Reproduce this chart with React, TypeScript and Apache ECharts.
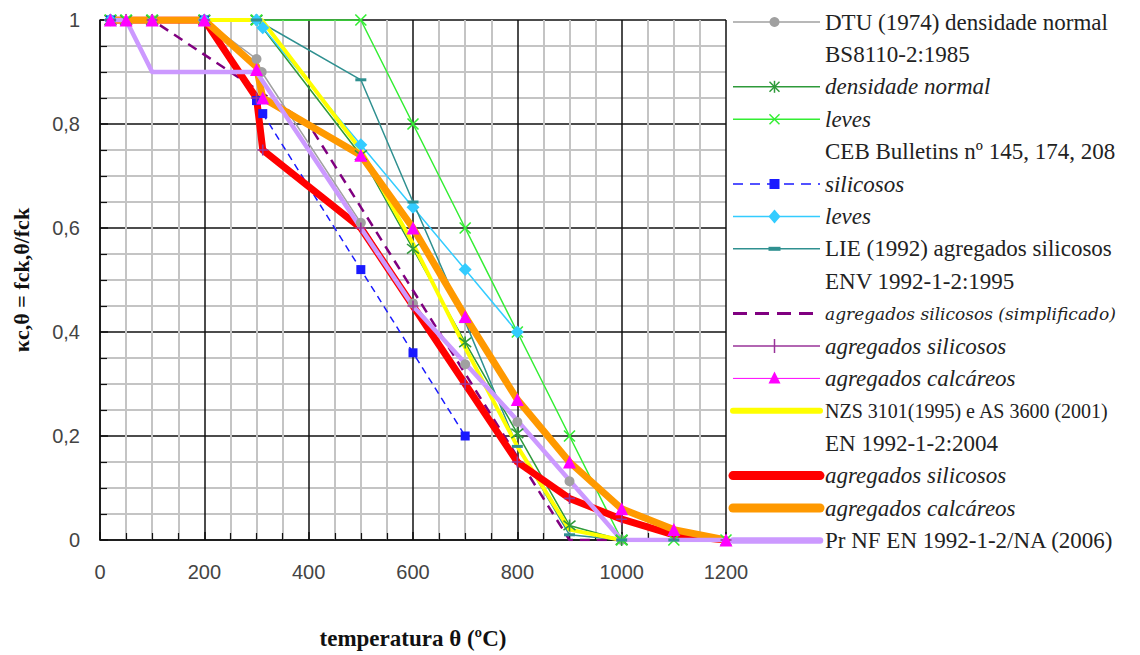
import React, { useEffect, useRef } from "react";
import * as echarts from "echarts";

// ---------- data (temperature °C, kc,θ) ----------
const dtu1974 = [[20, 1], [100, 1], [200, 1], [300, 0.925], [310, 0.9], [500, 0.61], [600, 0.455], [700, 0.338], [800, 0.227], [900, 0.113], [1000, 0]];
const bsNormal = [[20, 1], [50, 1], [100, 1], [200, 1], [300, 1], [500, 0.74], [600, 0.56], [700, 0.38], [800, 0.205], [900, 0.028], [1000, 0]];
const bsLeves = [[20, 1], [50, 1], [100, 1], [200, 1], [300, 1], [500, 1], [600, 0.8], [700, 0.6], [800, 0.4], [900, 0.2], [1000, 0], [1100, 0], [1200, 0]];
const cebSilicosos = [[20, 1], [200, 1], [300, 0.845], [312, 0.82], [500, 0.52], [600, 0.36], [700, 0.2]];
const cebLeves = [[20, 1], [200, 1], [300, 1], [312, 0.985], [500, 0.76], [600, 0.64], [700, 0.52], [800, 0.4]];
const lie1992 = [[20, 1], [300, 1], [500, 0.885], [600, 0.65], [700, 0.42], [800, 0.18], [900, 0.01], [1000, 0], [1100, 0]];
const envSimplificado = [[20, 1], [100, 1], [400, 0.8], [900, 0], [1200, 0]];
const envSilicosos = [[20, 1], [100, 1], [200, 1], [300, 0.85], [312, 0.75], [500, 0.6], [600, 0.45], [700, 0.3], [800, 0.15], [900, 0.08], [1000, 0.04], [1100, 0.01], [1200, 0]];
const envCalcareos = [[20, 1], [50, 1], [100, 1], [200, 1], [300, 0.905], [312, 0.85], [500, 0.74], [600, 0.6], [700, 0.43], [800, 0.27], [900, 0.15], [1000, 0.06], [1100, 0.02], [1200, 0]];
const nzs3101 = [[20, 1], [310, 1], [500, 0.75], [600, 0.57], [700, 0.37], [800, 0.18], [900, 0.02], [1000, 0]];
const enSilicosos = [[20, 1], [100, 1], [200, 1], [300, 0.85], [312, 0.75], [500, 0.6], [600, 0.45], [700, 0.3], [800, 0.15], [900, 0.08], [1000, 0.04], [1100, 0.01], [1200, 0]];
const enCalcareos = [[20, 1], [100, 1], [200, 1], [300, 0.91], [312, 0.85], [500, 0.74], [600, 0.6], [700, 0.43], [800, 0.27], [900, 0.15], [1000, 0.06], [1100, 0.02], [1200, 0]];
const prNf2006 = [[20, 1], [50, 1], [100, 0.9], [300, 0.9], [600, 0.45], [700, 0.34], [800, 0.23], [900, 0.115], [1000, 0], [1200, 0]];

const legendLabels = [
  "DTU (1974) densidade normal",
  "BS8110-2:1985",
  "densidade normal",
  "leves",
  "CEB Bulletins nº 145, 174, 208",
  "silicosos",
  "leves",
  "LIE (1992) agregados silicosos",
  "ENV 1992-1-2:1995",
  "agregados silicosos (simplificado)",
  "agregados silicosos",
  "agregados calcáreos",
  "NZS 3101(1995) e AS 3600 (2001)",
  "EN 1992-1-2:2004",
  "agregados silicosos",
  "agregados calcáreos",
  "Pr NF EN 1992-1-2/NA (2006)",
];

const xName = "temperatura θ (ºC)";
const yName = "κc,θ = fck,θ/fck";

// ---------- styling ----------
const P_X = "path://M0,0L10,10M10,0L0,10";
const P_AST = "path://M1,1L9,9M9,1L1,9M5,0L5,10";
const P_PLUS = "path://M5,0L5,10M0,5L10,5";

type SeriesCfg = {
  data: number[][];
  color: string;
  width: number;
  dash?: any;
  symbol: string;
  size?: any;
  stroke?: boolean;
  legendRow: number;
  italic?: boolean;
  fontSize?: number;
  fontFamily?: string;
};

const seriesCfg: SeriesCfg[] = [
  { data: dtu1974, color: "#a0a0a0", width: 1.5, symbol: "circle", size: 10, legendRow: 0 },
  { data: bsNormal, color: "#2e9a3a", width: 1.5, symbol: P_AST, size: 12, stroke: true, legendRow: 2, italic: true },
  { data: bsLeves, color: "#33ee33", width: 1.5, symbol: P_X, size: 11, stroke: true, legendRow: 3, italic: true },
  { data: cebSilicosos, color: "#1a1aff", width: 1.5, dash: [7, 5], symbol: "rect", size: 9, legendRow: 5, italic: true },
  { data: cebLeves, color: "#33ccff", width: 1.5, symbol: "diamond", size: 13, legendRow: 6, italic: true },
  { data: lie1992, color: "#2f9090", width: 1.5, symbol: "rect", size: [11, 3], legendRow: 7 },
  { data: envSimplificado, color: "#800080", width: 2.5, dash: [10, 7], symbol: "none", legendRow: 9, italic: true, fontSize: 17, fontFamily: "DejaVu Serif" },
  { data: envSilicosos, color: "#993399", width: 1.5, symbol: P_PLUS, size: 11, stroke: true, legendRow: 10, italic: true },
  { data: envCalcareos, color: "#ff00ff", width: 1, symbol: "triangle", size: 13, legendRow: 11, italic: true },
  { data: nzs3101, color: "#ffff00", width: 4, symbol: "none", legendRow: 12, fontSize: 20 },
  { data: enSilicosos, color: "#ff0000", width: 7, symbol: "none", legendRow: 14, italic: true },
  { data: enCalcareos, color: "#ff9900", width: 7, symbol: "none", legendRow: 15, italic: true },
  { data: prNf2006, color: "#cc99ff", width: 4.5, symbol: "none", legendRow: 16 },
];

const LEG_X0 = 733;
const LEG_X1 = 820;
const LEG_TX = 825;
const LEG_Y0 = 22;
const LEG_DY = 32.4;

function markerGraphic(cfg: SeriesCfg, cx: number, cy: number): any[] {
  const c = cfg.color;
  switch (cfg.symbol) {
    case "circle":
      return [{ type: "circle", shape: { cx, cy, r: 5 }, style: { fill: c } }];
    case "rect":
      if (Array.isArray(cfg.size)) return [{ type: "rect", shape: { x: cx - 6, y: cy - 2, width: 12, height: 4 }, style: { fill: c } }];
      return [{ type: "rect", shape: { x: cx - 5, y: cy - 5, width: 10, height: 10 }, style: { fill: c } }];
    case "diamond":
      return [{ type: "polygon", shape: { points: [[cx, cy - 7], [cx + 6, cy], [cx, cy + 7], [cx - 6, cy]] }, style: { fill: c } }];
    case "triangle":
      return [{ type: "polygon", shape: { points: [[cx, cy - 7], [cx + 6, cy + 5], [cx - 6, cy + 5]] }, style: { fill: c } }];
    case P_X:
      return [
        { type: "line", shape: { x1: cx - 5, y1: cy - 5, x2: cx + 5, y2: cy + 5 }, style: { stroke: c, lineWidth: 1.5 } },
        { type: "line", shape: { x1: cx + 5, y1: cy - 5, x2: cx - 5, y2: cy + 5 }, style: { stroke: c, lineWidth: 1.5 } },
      ];
    case P_AST:
      return [
        { type: "line", shape: { x1: cx - 5, y1: cy - 5, x2: cx + 5, y2: cy + 5 }, style: { stroke: c, lineWidth: 1.5 } },
        { type: "line", shape: { x1: cx + 5, y1: cy - 5, x2: cx - 5, y2: cy + 5 }, style: { stroke: c, lineWidth: 1.5 } },
        { type: "line", shape: { x1: cx, y1: cy - 6, x2: cx, y2: cy + 6 }, style: { stroke: c, lineWidth: 1.5 } },
      ];
    case P_PLUS:
      return [{ type: "line", shape: { x1: cx, y1: cy - 7, x2: cx, y2: cy + 7 }, style: { stroke: c, lineWidth: 1.5 } }];
    default:
      return [];
  }
}

function buildLegend(): any[] {
  const els: any[] = [];
  legendLabels.forEach((label, i) => {
    const cy = LEG_Y0 + i * LEG_DY;
    const cfg = seriesCfg.find((s) => s.legendRow === i);
    if (cfg) {
      const lw = cfg.width >= 4 ? cfg.width + 2 : cfg.width >= 2.5 ? 3 : cfg.width;
      els.push({
        type: "line",
        shape: { x1: LEG_X0, y1: cy, x2: LEG_X1, y2: cy },
        style: { stroke: cfg.color, lineWidth: lw, lineDash: cfg.dash ? (cfg.width >= 2.5 ? [14, 8] : [10, 7]) : null, lineCap: cfg.width >= 4 ? "round" : "butt" },
      });
      els.push(...markerGraphic(cfg, (LEG_X0 + LEG_X1) / 2 - 2, cy));
    }
    els.push({
      type: "text",
      x: LEG_TX,
      y: cy,
      style: {
        text: label,
        fill: "#222222",
        fontFamily: cfg && cfg.fontFamily ? cfg.fontFamily : "Liberation Serif",
        fontSize: cfg && cfg.fontSize ? cfg.fontSize : 23,
        fontStyle: cfg && cfg.italic ? "italic" : "normal",
        verticalAlign: "middle",
        align: "left",
      },
    });
  });
  return els;
}

export default function App() {
  const ref = useRef<HTMLDivElement>(null);
  useEffect(() => {
    if (!ref.current) return;
    const chart = echarts.init(ref.current, null, { renderer: "svg" });
    const fmtY = (v: number) => String(+v.toFixed(2)).replace(".", ",");
    const fmtX = (v: number) => String(Math.round(v));
    const lineSeries = seriesCfg.map((s) => ({
      type: "line",
      name: legendLabels[s.legendRow],
      data: s.data,
      z: 2,
      symbol: "none",
      lineStyle: { color: s.color, width: s.width, type: s.dash ? s.dash : "solid", cap: s.width >= 4 ? "round" : "butt", join: "round" },
      emphasis: { disabled: true },
      silent: true,
    }));
    const markerSeries = seriesCfg
      .filter((s) => s.symbol !== "none")
      .map((s) => ({
        type: "scatter",
        name: legendLabels[s.legendRow] + " (marcadores)",
        data: s.data,
        z: 3,
        symbol: s.symbol,
        symbolSize: s.size || 8,
        itemStyle: s.stroke
          ? { color: s.color, borderColor: s.color, borderWidth: 1.6, opacity: 1 }
          : { color: s.color, borderWidth: 0, opacity: 1 },
        emphasis: { disabled: true },
        silent: true,
      }));
    chart.setOption({
      animation: false,
      backgroundColor: "#ffffff",
      grid: { left: 100, right: 414, top: 20, bottom: 107, containLabel: false },
      xAxis: {
        type: "value",
        min: 0,
        max: 1200,
        interval: 200,
        name: xName,
        nameLocation: "middle",
        nameGap: 87,
        nameTextStyle: { fontFamily: "Liberation Serif", fontWeight: "bold", fontSize: 23, color: "#111" },
        axisLine: { show: true, onZero: false, lineStyle: { color: "#111", width: 1.5 } },
        axisTick: { show: true, inside: true, length: 8, lineStyle: { color: "#111", width: 1.5 } },
        minorTick: { show: true, splitNumber: 4, length: 7, lineStyle: { color: "#111", width: 1.2 } },
        axisLabel: { fontFamily: "Liberation Sans", fontSize: 20, color: "#444", margin: 22, formatter: fmtX },
        splitLine: { show: true, lineStyle: { color: "#111", width: 1.5 } },
        minorSplitLine: { show: true, lineStyle: { color: "#c4c4c4", width: 2 } },
      },
      yAxis: {
        type: "value",
        min: 0,
        max: 1,
        interval: 0.2,
        name: yName,
        nameLocation: "middle",
        nameGap: 68,
        nameRotate: 90,
        nameTextStyle: { fontFamily: "Liberation Serif", fontWeight: "bold", fontSize: 22, color: "#111" },
        axisLine: { show: true, onZero: false, lineStyle: { color: "#111", width: 1.5 } },
        axisTick: { show: true, inside: true, length: 8, lineStyle: { color: "#111", width: 1.5 } },
        minorTick: { show: true, splitNumber: 4, length: 7, lineStyle: { color: "#111", width: 1.2 } },
        axisLabel: { fontFamily: "Liberation Sans", fontSize: 20, color: "#444", margin: 20, formatter: fmtY },
        splitLine: { show: true, lineStyle: { color: "#111", width: 1.5 } },
        minorSplitLine: { show: true, lineStyle: { color: "#c4c4c4", width: 2 } },
      },
      series: [...lineSeries, ...markerSeries],
      graphic: buildLegend(),
    });
    return () => chart.dispose();
  }, []);
  return <div ref={ref} style={{ position: "fixed", left: 0, top: 0, width: 1140, height: 655, background: "#fff" }} />;
}
